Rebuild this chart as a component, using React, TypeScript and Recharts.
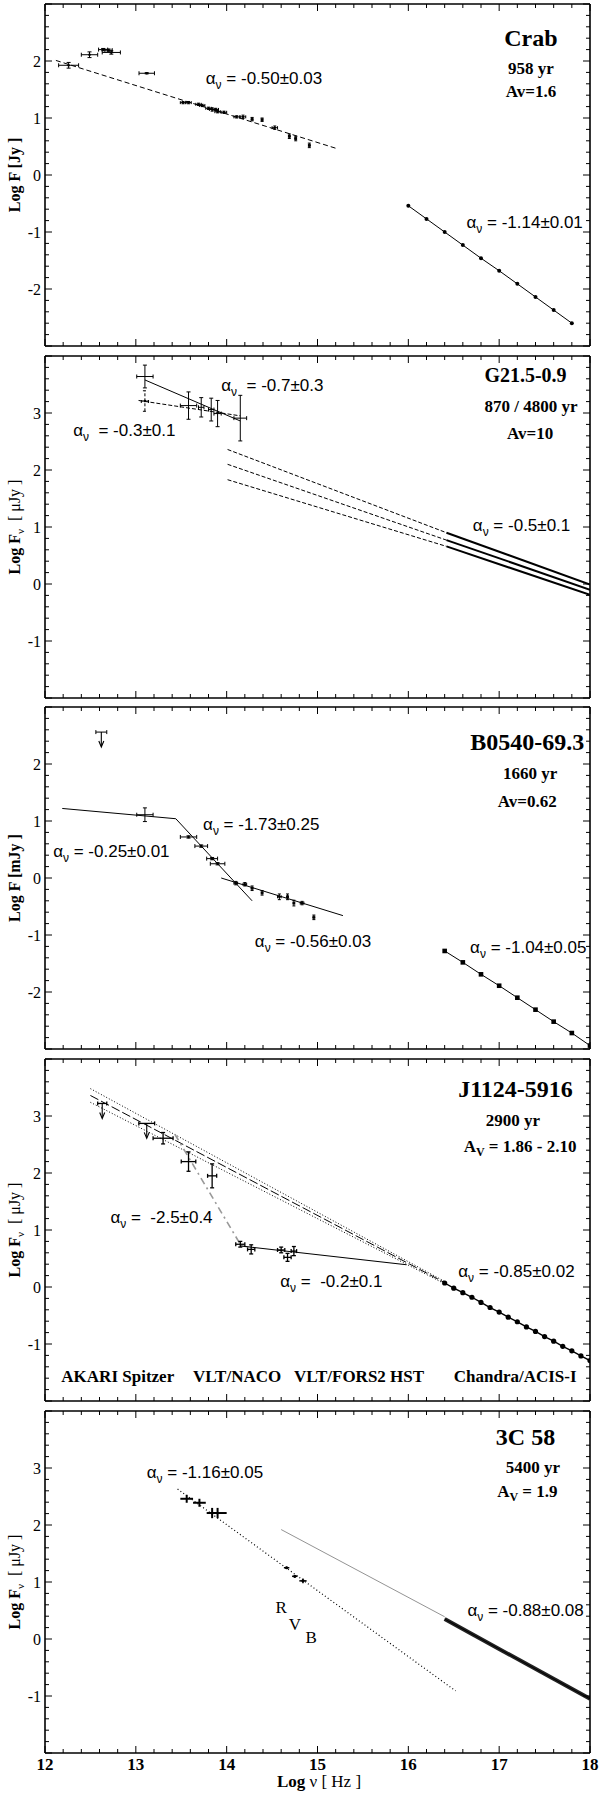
import React from 'react';
import { ComposedChart, Line, Scatter, XAxis, YAxis, ErrorBar } from 'recharts';

const SERIF = '"Liberation Serif", "Times New Roman", Times, serif';
const SANS = '"Liberation Sans", Arial, Helvetica, sans-serif';

const X_DOMAIN: [number, number] = [12, 18];
const X_LABELS = [12, 13, 14, 15, 16, 17, 18];

// ---------------- Crab ----------------
const crabFit = [{ x: 12.12, y: 2.01 }, { x: 15.22, y: 0.46 }];
const crabIR = [
  { x: 12.26, y: 1.925, ex: 0.11, ey: 0.05 },
  { x: 12.49, y: 2.11, ex: 0.09, ey: 0.05 },
  { x: 12.64, y: 2.2, ex: 0.05, ey: 0.02 },
  { x: 12.7, y: 2.19, ex: 0.04, ey: 0.02 },
  { x: 12.73, y: 2.15, ex: 0.1, ey: 0.03 },
  { x: 13.12, y: 1.785, ex: 0.085, ey: 0.01 },
];
const crabOpt = [
  { x: 13.52, y: 1.27, ex: 0.03, ey: 0.02 },
  { x: 13.58, y: 1.27, ex: 0.03, ey: 0.02 },
  { x: 13.69, y: 1.24, ex: 0.03, ey: 0.02 },
  { x: 13.73, y: 1.22, ex: 0.03, ey: 0.02 },
  { x: 13.8, y: 1.17, ex: 0.03, ey: 0.02 },
  { x: 13.84, y: 1.15, ex: 0.03, ey: 0.03 },
  { x: 13.88, y: 1.15, ex: 0.03, ey: 0.02 },
  { x: 13.9, y: 1.11, ex: 0.03, ey: 0.02 },
  { x: 13.97, y: 1.1, ex: 0.03, ey: 0.02 },
  { x: 14.11, y: 1.02, ex: 0.03, ey: 0.02 },
  { x: 14.18, y: 1.02, ex: 0.03, ey: 0.03 },
  { x: 14.28, y: 0.98, ex: 0.01, ey: 0.03 },
  { x: 14.39, y: 0.97, ex: 0.01, ey: 0.03 },
  { x: 14.53, y: 0.83, ex: 0.03, ey: 0.03 },
  { x: 14.69, y: 0.68, ex: 0.01, ey: 0.04 },
  { x: 14.76, y: 0.64, ex: 0.01, ey: 0.04 },
  { x: 14.91, y: 0.52, ex: 0.01, ey: 0.04 },
];
const crabXray = [
  { x: 16.0, y: -0.54 }, { x: 16.2, y: -0.77 }, { x: 16.4, y: -1.0 }, { x: 16.6, y: -1.23 },
  { x: 16.8, y: -1.46 }, { x: 17.0, y: -1.68 }, { x: 17.2, y: -1.91 }, { x: 17.4, y: -2.14 },
  { x: 17.6, y: -2.37 }, { x: 17.8, y: -2.6 },
];
const crabNotes = [
  { x: 13.77, y: 1.59, kind: 'alpha', text: ' = -0.50±0.03' },
  { x: 16.64, y: -0.925, kind: 'alpha', text: ' = -1.14±0.01' },
  { x: 17.35, y: 2.27, kind: 'title', text: 'Crab' },
  { x: 17.35, y: 1.77, kind: 'sub', text: '958 yr' },
  { x: 17.35, y: 1.37, kind: 'sub', text: 'Av=1.6' },
];

// ---------------- G21.5-0.9 ----------------
const g21Steep = [{ x: 13.1, y: 3.58 }, { x: 14.15, y: 2.86 }];
const g21Flat = [{ x: 13.03, y: 3.22 }, { x: 14.15, y: 2.95 }];
const g21ExtHi = [{ x: 14.01, y: 2.36 }, { x: 16.42, y: 0.9 }];
const g21ExtMid = [{ x: 14.01, y: 2.1 }, { x: 16.42, y: 0.77 }];
const g21ExtLo = [{ x: 14.01, y: 1.83 }, { x: 16.42, y: 0.66 }];
const g21XHi = [{ x: 16.42, y: 0.9 }, { x: 18.0, y: -0.01 }];
const g21XMid = [{ x: 16.42, y: 0.77 }, { x: 18.0, y: -0.1 }];
const g21XLo = [{ x: 16.42, y: 0.66 }, { x: 18.0, y: -0.19 }];
const g21Pts = [
  { x: 13.1, y: 3.64, ex: 0.09, ey: 0.2 },
  { x: 13.58, y: 3.13, ex: 0.09, ey: 0.24 },
  { x: 13.72, y: 3.1, ex: 0.03, ey: 0.17 },
  { x: 13.83, y: 3.06, ex: 0.03, ey: 0.2 },
  { x: 13.9, y: 2.99, ex: 0.04, ey: 0.23 },
  { x: 14.15, y: 2.91, ex: 0.07, ey: 0.4 },
];
const g21PtsLow = [{ x: 13.1, y: 3.21, ex: 0.04, ey: 0.18 }];
const g21Notes = [
  { x: 13.94, y: 3.38, kind: 'alpha', text: '  = -0.7±0.3' },
  { x: 12.31, y: 2.59, kind: 'alpha', text: '  = -0.3±0.1' },
  { x: 16.71, y: 0.93, kind: 'alpha', text: ' = -0.5±0.1' },
  { x: 17.29, y: 3.54, kind: 'title', text: 'G21.5-0.9', size: 20 },
  { x: 17.35, y: 3.01, kind: 'sub', text: '870 / 4800 yr' },
  { x: 17.34, y: 2.54, kind: 'sub', text: 'Av=10' },
];

// ---------------- B0540-69.3 ----------------
const b05Broken = [{ x: 12.19, y: 1.22 }, { x: 13.44, y: 1.04 }, { x: 14.28, y: -0.4 }];
const b05Fit = [{ x: 13.94, y: 0.0 }, { x: 15.28, y: -0.66 }];
const b05Xray = [
  { x: 16.4, y: -1.28 }, { x: 16.6, y: -1.48 }, { x: 16.8, y: -1.69 }, { x: 17.0, y: -1.89 },
  { x: 17.2, y: -2.1 }, { x: 17.4, y: -2.31 }, { x: 17.6, y: -2.52 }, { x: 17.8, y: -2.72 },
  { x: 18.0, y: -2.94 },
];
const b05Limit = [{ x: 12.62, y: 2.56, ex: 0.06, ey: 0 }];
const b05Big = [{ x: 13.1, y: 1.11, ex: 0.09, ey: 0.12 }];
const b05NIR = [
  { x: 13.58, y: 0.72, ex: 0.09, ey: 0.02 },
  { x: 13.72, y: 0.56, ex: 0.07, ey: 0.02 },
  { x: 13.84, y: 0.34, ex: 0.06, ey: 0.02 },
  { x: 13.9, y: 0.25, ex: 0.08, ey: 0.02 },
];
const b05Opt = [
  { x: 14.1, y: -0.09, ex: 0.02, ey: 0.03 },
  { x: 14.2, y: -0.11, ex: 0.02, ey: 0.03 },
  { x: 14.28, y: -0.18, ex: 0.01, ey: 0.04 },
  { x: 14.39, y: -0.26, ex: 0.01, ey: 0.04 },
  { x: 14.58, y: -0.33, ex: 0.02, ey: 0.05 },
  { x: 14.67, y: -0.33, ex: 0.01, ey: 0.05 },
  { x: 14.74, y: -0.44, ex: 0.01, ey: 0.05 },
  { x: 14.83, y: -0.44, ex: 0.02, ey: 0.03 },
  { x: 14.96, y: -0.69, ex: 0.01, ey: 0.04 },
];
const b05Notes = [
  { x: 13.74, y: 0.85, kind: 'alpha', text: ' = -1.73±0.25' },
  { x: 12.09, y: 0.36, kind: 'alpha', text: ' = -0.25±0.01' },
  { x: 14.31, y: -1.21, kind: 'alpha', text: ' = -0.56±0.03' },
  { x: 16.68, y: -1.32, kind: 'alpha', text: ' = -1.04±0.05' },
  { x: 17.31, y: 2.25, kind: 'title', text: 'B0540-69.3' },
  { x: 17.34, y: 1.73, kind: 'sub', text: '1660 yr' },
  { x: 17.31, y: 1.24, kind: 'sub', text: 'Av=0.62' },
];

// ---------------- J1124-5916 ----------------
const j11DotHi = [{ x: 12.5, y: 3.48 }, { x: 16.42, y: 0.08 }];
const j11Dash = [{ x: 12.5, y: 3.36 }, { x: 16.42, y: 0.06 }];
const j11DotLo = [{ x: 12.5, y: 3.24 }, { x: 16.42, y: 0.04 }];
const j11Steep = [{ x: 13.43, y: 2.68 }, { x: 14.15, y: 0.75 }];
const j11Flat = [{ x: 14.15, y: 0.72 }, { x: 15.98, y: 0.39 }];
const j11Xray = [
  { x: 16.4, y: 0.07 }, { x: 16.5, y: -0.02 }, { x: 16.6, y: -0.1 }, { x: 16.7, y: -0.18 },
  { x: 16.8, y: -0.27 }, { x: 16.9, y: -0.36 }, { x: 17.0, y: -0.44 }, { x: 17.1, y: -0.53 },
  { x: 17.2, y: -0.61 }, { x: 17.3, y: -0.7 }, { x: 17.4, y: -0.78 }, { x: 17.5, y: -0.87 },
  { x: 17.6, y: -0.95 }, { x: 17.7, y: -1.04 }, { x: 17.8, y: -1.12 }, { x: 17.9, y: -1.21 },
  { x: 18.0, y: -1.29 },
];
const j11Limits = [
  { x: 12.63, y: 3.22, ex: 0.05, ey: 0 },
  { x: 13.12, y: 2.87, ex: 0.087, ey: 0 },
];
const j11Pts = [
  { x: 13.3, y: 2.61, ex: 0.11, ey: 0.1 },
  { x: 13.58, y: 2.2, ex: 0.08, ey: 0.17 },
  { x: 13.84, y: 1.95, ex: 0.05, ey: 0.21 },
  { x: 14.15, y: 0.75, ex: 0.05, ey: 0.05 },
  { x: 14.27, y: 0.66, ex: 0.04, ey: 0.08 },
  { x: 14.6, y: 0.65, ex: 0.04, ey: 0.05 },
  { x: 14.67, y: 0.52, ex: 0.04, ey: 0.07 },
  { x: 14.74, y: 0.63, ex: 0.03, ey: 0.08 },
];
const j11Notes = [
  { x: 12.72, y: 1.12, kind: 'alpha', text: ' =  -2.5±0.4' },
  { x: 14.59, y: 0.005, kind: 'alpha', text: ' =  -0.2±0.1' },
  { x: 16.55, y: 0.18, kind: 'alpha', text: ' = -0.85±0.02' },
  { x: 12.18, y: -1.673, kind: 'inst', text: 'AKARI Spitzer' },
  { x: 13.63, y: -1.673, kind: 'inst', text: 'VLT/NACO' },
  { x: 14.74, y: -1.673, kind: 'inst', text: 'VLT/FORS2 HST' },
  { x: 16.5, y: -1.673, kind: 'inst', text: 'Chandra/ACIS-I' },
  { x: 17.18, y: 3.34, kind: 'title', text: 'J1124-5916' },
  { x: 17.15, y: 2.82, kind: 'sub', text: '2900 yr' },
  { x: 17.23, y: 2.36, kind: 'av', text: ' = 1.86 - 2.10' },
];

// ---------------- 3C 58 ----------------
const c58Dotted = [{ x: 13.46, y: 2.63 }, { x: 16.52, y: -0.91 }];
const c58Thin = [{ x: 14.6, y: 1.92 }, { x: 16.4, y: 0.39 }];
const c58Band = [{ x: 16.4, y: 0.35 }, { x: 18.0, y: -1.05 }];
const c58NIR = [
  { x: 13.56, y: 2.46, ex: 0.07, ey: 0.07 },
  { x: 13.7, y: 2.39, ex: 0.07, ey: 0.07 },
  { x: 13.84, y: 2.21, ex: 0.06, ey: 0.09 },
  { x: 13.9, y: 2.21, ex: 0.1, ey: 0.09 },
];
const c58Opt = [
  { x: 14.66, y: 1.25, ex: 0.03, ey: 0.02 },
  { x: 14.75, y: 1.1, ex: 0.03, ey: 0.02 },
  { x: 14.84, y: 1.02, ex: 0.04, ey: 0.04 },
];
const c58Notes = [
  { x: 13.12, y: 2.83, kind: 'alpha', text: ' = -1.16±0.05' },
  { x: 16.65, y: 0.4, kind: 'alpha', text: ' = -0.88±0.08' },
  { x: 14.6, y: 0.45, kind: 'plain', text: 'R' },
  { x: 14.75, y: 0.16, kind: 'plain', text: 'V' },
  { x: 14.93, y: -0.07, kind: 'plain', text: 'B' },
  { x: 17.29, y: 3.41, kind: 'title', text: '3C 58' },
  { x: 17.37, y: 2.92, kind: 'sub', text: '5400 yr' },
  { x: 17.31, y: 2.5, kind: 'av', text: ' = 1.9' },
];

// ---------------- helpers ----------------
const round1 = (v: number) => Math.round(v * 10) / 10;
function stepTicks(lo: number, hi: number) {
  const out: number[] = [];
  const n = Math.round((hi - lo) / 0.2);
  for (let i = 0; i <= n; i++) out.push(round1(lo + i * 0.2));
  return out;
}
const X_TICKS = stepTicks(12, 18);
const isInt = (v: number) => Math.abs(v - Math.round(v)) < 1e-6;

function makeTick(side: string, labels: number[]) {
  return function TickMark(props: any) {
    const { x, y, payload } = props;
    const v = Number(payload && payload.value);
    const major = isInt(v);
    const len = major ? 7 : 4;
    let x2 = x;
    let y2 = y;
    if (side === 'left') x2 = x + len;
    else if (side === 'right') x2 = x - len;
    else if (side === 'top') y2 = y + len;
    else y2 = y - len;
    const show = major && labels.some((l) => Math.abs(l - v) < 1e-6);
    let label: any = null;
    if (show && side === 'left') {
      label = (
        <text x={x - 4} y={y + 5.5} textAnchor="end" fontFamily={SERIF} fontSize={16} fill="#000" stroke="none">
          {String(Math.round(v))}
        </text>
      );
    } else if (show && side === 'bottom') {
      label = (
        <text x={x} y={y + 17} textAnchor="middle" fontFamily={SERIF} fontWeight="bold" fontSize={17} fill="#000" stroke="none">
          {String(Math.round(v))}
        </text>
      );
    }
    return (
      <g>
        <line x1={x} y1={y} x2={x2} y2={y2} stroke="#000" strokeWidth={1} />
        {label}
      </g>
    );
  };
}

function NoteShape(props: any) {
  const { cx, cy, payload } = props;
  const d = payload || {};
  if (cx == null || cy == null) return <g />;
  if (d.kind === 'alpha') {
    return (
      <text x={cx} y={cy} fontFamily={SANS} fontSize={17} fill="#000" style={{ whiteSpace: 'pre' }}>
        α<tspan dy={5} fontSize={12}>ν</tspan>
        <tspan dy={-5}>{d.text}</tspan>
      </text>
    );
  }
  if (d.kind === 'title') {
    return (
      <text x={cx} y={cy} textAnchor="middle" fontFamily={SERIF} fontWeight="bold" fontSize={d.size || 24} fill="#000">
        {d.text}
      </text>
    );
  }
  if (d.kind === 'sub') {
    return (
      <text x={cx} y={cy} textAnchor="middle" fontFamily={SERIF} fontWeight="bold" fontSize={17} fill="#000" style={{ whiteSpace: 'pre' }}>
        {d.text}
      </text>
    );
  }
  if (d.kind === 'av') {
    return (
      <text x={cx} y={cy} textAnchor="middle" fontFamily={SERIF} fontWeight="bold" fontSize={17} fill="#000" style={{ whiteSpace: 'pre' }}>
        A<tspan dy={4} fontSize={12}>V</tspan>
        <tspan dy={-4}>{d.text}</tspan>
      </text>
    );
  }
  if (d.kind === 'inst') {
    return (
      <text x={cx} y={cy} fontFamily={SERIF} fontWeight="bold" fontSize={17} fill="#000">
        {d.text}
      </text>
    );
  }
  return (
    <text x={cx} y={cy} textAnchor="middle" fontFamily={SERIF} fontSize={17} fill="#000">
      {d.text}
    </text>
  );
}

function makeShape(kind: string, size: number) {
  return function PointShape(props: any) {
    const { cx, cy } = props;
    if (cx == null || cy == null) return <g />;
    if (kind === 'dot') return <circle cx={cx} cy={cy} r={size} fill="#000" />;
    if (kind === 'square') return <rect x={cx - size} y={cy - size} width={size * 2} height={size * 2} fill="#000" />;
    if (kind === 'ulim') {
      return (
        <g stroke="#000" strokeWidth={1.1} fill="#000">
          <line x1={cx} y1={cy} x2={cx} y2={cy + size} />
          <path d={`M${cx - 2.5},${cy + size - 5} L${cx},${cy + size + 1} L${cx + 2.5},${cy + size - 5}`} fill="none" />
        </g>
      );
    }
    return <g />;
  };
}

type LineSpec = { data: any[]; stroke?: string; width?: number; dash?: string; dot?: string; dotSize?: number };
type PtSpec = { data: any[]; shape: string; size?: number; cap?: number; sw?: number; stroke?: string; dash?: string; noEy?: boolean };
type PanelSpec = {
  top: number;
  bottom: number;
  yDomain: [number, number];
  yLabels: number[];
  lines: LineSpec[];
  points: PtSpec[];
  notes: any[];
};

const PANELS: PanelSpec[] = [
  {
    top: 4, bottom: 346, yDomain: [-3, 3], yLabels: [-2, -1, 0, 1, 2],
    lines: [
      { data: crabFit, dash: '5 3', width: 1 },
      { data: crabXray, width: 1, dot: 'dot', dotSize: 2 },
    ],
    points: [
      { data: crabIR, shape: 'dot', size: 1.3, cap: 2, sw: 1 },
      { data: crabOpt, shape: 'dot', size: 1.2, cap: 1.5, sw: 1 },
    ],
    notes: crabNotes,
  },
  {
    top: 356, bottom: 698, yDomain: [-2, 4], yLabels: [-1, 0, 1, 2, 3],
    lines: [
      { data: g21Steep, width: 1 },
      { data: g21Flat, width: 1, dash: '4 2' },
      { data: g21ExtHi, width: 1, dash: '4 2' },
      { data: g21ExtMid, width: 1, dash: '4 2' },
      { data: g21ExtLo, width: 1, dash: '4 2' },
      { data: g21XHi, width: 2 },
      { data: g21XMid, width: 2 },
      { data: g21XLo, width: 2 },
    ],
    points: [
      { data: g21Pts, shape: 'none', cap: 2, sw: 1 },
      { data: g21PtsLow, shape: 'dot', size: 1.3, cap: 2, sw: 1, dash: '3 2' },
    ],
    notes: g21Notes,
  },
  {
    top: 707, bottom: 1049, yDomain: [-3, 3], yLabels: [-2, -1, 0, 1, 2],
    lines: [
      { data: b05Broken, width: 1 },
      { data: b05Fit, width: 1 },
      { data: b05Xray, width: 1, dot: 'square', dotSize: 2.3 },
    ],
    points: [
      { data: b05Limit, shape: 'ulim', size: 14, cap: 2, sw: 1, noEy: true },
      { data: b05Big, shape: 'none', cap: 2, sw: 1 },
      { data: b05NIR, shape: 'dot', size: 1.3, cap: 2, sw: 1 },
      { data: b05Opt, shape: 'dot', size: 1.2, cap: 1.5, sw: 1 },
    ],
    notes: b05Notes,
  },
  {
    top: 1059, bottom: 1401, yDomain: [-2, 4], yLabels: [-1, 0, 1, 2, 3],
    lines: [
      { data: j11DotHi, width: 1, dash: '1 2' },
      { data: j11DotLo, width: 1, dash: '1 2' },
      { data: j11Dash, width: 1, dash: '9 3' },
      { data: j11Steep, width: 1.6, dash: '7 4 2 4', stroke: '#999' },
      { data: j11Flat, width: 1.2 },
      { data: j11Xray, width: 1.4, dot: 'dot', dotSize: 2.6 },
    ],
    points: [
      { data: j11Limits, shape: 'ulim', size: 14, cap: 2, sw: 1.3, noEy: true },
      { data: j11Pts, shape: 'none', cap: 2, sw: 1.3 },
    ],
    notes: j11Notes,
  },
  {
    top: 1411, bottom: 1753, yDomain: [-2, 4], yLabels: [-1, 0, 1, 2, 3],
    lines: [
      { data: c58Dotted, width: 1.2, dash: '1 2.5' },
      { data: c58Thin, width: 0.8, stroke: '#777' },
      { data: c58Band, width: 4, stroke: '#222' },
      { data: c58Band, width: 1, stroke: '#000' },
    ],
    points: [
      { data: c58NIR, shape: 'none', cap: 0, sw: 2 },
      { data: c58Opt, shape: 'dot', size: 1.6, cap: 0, sw: 1.5 },
    ],
    notes: c58Notes,
  },
];

const FRAME = { stroke: '#000', strokeWidth: 1.6 };

function renderLineDot(kind: string, size: number) {
  return (props: any) => {
    const { cx, cy, index } = props;
    if (cx == null || cy == null) return <g key={`d${index}`} />;
    if (kind === 'square')
      return <rect key={`d${index}`} x={cx - size} y={cy - size} width={size * 2} height={size * 2} fill="#000" />;
    return <circle key={`d${index}`} cx={cx} cy={cy} r={size} fill="#000" />;
  };
}

function PanelChart({ p, last }: { p: PanelSpec; last: boolean }) {
  const plotH = p.bottom - p.top;
  const bottomH = last ? 42 : 2;
  const marginBottom = last ? 0 : 3;
  const height = 5 + plotH + bottomH + marginBottom;
  const yTicks = stepTicks(p.yDomain[0], p.yDomain[1]);
  return (
    <div style={{ position: 'absolute', left: 0, top: p.top - 5, width: 600, height }}>
      <ComposedChart width={600} height={height} margin={{ top: 3, right: 8, bottom: marginBottom, left: 8 }}>
        <XAxis
          xAxisId="b" orientation="bottom" dataKey="x" type="number" domain={X_DOMAIN} allowDataOverflow
          ticks={X_TICKS} interval={0} tickSize={0} tickMargin={0} height={bottomH}
          axisLine={FRAME} tickLine={false} tick={makeTick('bottom', last ? X_LABELS : [])}
        />
        <XAxis
          xAxisId="t" orientation="top" dataKey="x" type="number" domain={X_DOMAIN} allowDataOverflow
          ticks={X_TICKS} interval={0} tickSize={0} tickMargin={0} height={2}
          axisLine={FRAME} tickLine={false} tick={makeTick('top', [])}
        />
        <YAxis
          yAxisId="l" orientation="left" dataKey="y" type="number" domain={p.yDomain} allowDataOverflow
          ticks={yTicks} interval={0} tickSize={0} tickMargin={0} width={37}
          axisLine={FRAME} tickLine={false} tick={makeTick('left', p.yLabels)}
        />
        <YAxis
          yAxisId="r" orientation="right" dataKey="y" type="number" domain={p.yDomain} allowDataOverflow
          ticks={yTicks} interval={0} tickSize={0} tickMargin={0} width={2}
          axisLine={FRAME} tickLine={false} tick={makeTick('right', [])}
        />
        {p.lines.map((l, i) => (
          <Line
            key={`line${i}`}
            data={l.data}
            dataKey="y"
            xAxisId="b"
            yAxisId="l"
            type="linear"
            stroke={l.stroke || '#000'}
            strokeWidth={l.width || 1}
            strokeDasharray={l.dash}
            dot={l.dot ? renderLineDot(l.dot, l.dotSize || 2) : false}
            activeDot={false}
            isAnimationActive={false}
            legendType="none"
          />
        ))}
        {p.points.map((s, i) => (
          <Scatter
            key={`pts${i}`}
            data={s.data}
            dataKey="y"
            xAxisId="b"
            yAxisId="l"
            shape={makeShape(s.shape, s.size || 1.5)}
            isAnimationActive={false}
            fill="#000"
            legendType="none"
          >
            <ErrorBar dataKey="ex" direction="x" width={s.cap ?? 2} stroke={s.stroke || '#000'} strokeWidth={s.sw || 1} strokeDasharray={s.dash} isAnimationActive={false} />
            {!s.noEy && (
              <ErrorBar dataKey="ey" direction="y" width={s.cap ?? 2} stroke={s.stroke || '#000'} strokeWidth={s.sw || 1} strokeDasharray={s.dash} isAnimationActive={false} />
            )}
          </Scatter>
        ))}
        <Scatter
          data={p.notes}
          dataKey="y"
          xAxisId="b"
          yAxisId="l"
          shape={NoteShape}
          isAnimationActive={false}
          legendType="none"
        />
      </ComposedChart>
    </div>
  );
}

const Y_TITLES = ['jy', 'ujy', 'mjy', 'ujy', 'ujy'];

function YTitle({ kind, cy }: { kind: string; cy: number }) {
  const tf = `translate(20, ${cy}) rotate(-90)`;
  if (kind === 'ujy') {
    return (
      <text transform={tf} textAnchor="middle" fontFamily={SERIF} fontSize={16} fill="#000" style={{ whiteSpace: 'pre' }}>
        <tspan fontWeight="bold">Log F</tspan>
        <tspan dy={4} fontSize={11}>ν</tspan>
        <tspan dy={-4}>{'  [ μJy ]'}</tspan>
      </text>
    );
  }
  return (
    <text transform={tf} textAnchor="middle" fontFamily={SERIF} fontSize={16} fontWeight="bold" fill="#000" style={{ whiteSpace: 'pre' }}>
      {kind === 'jy' ? 'Log F [Jy ]' : 'Log F [mJy ]'}
    </text>
  );
}

export default function App() {
  return (
    <div style={{ position: 'absolute', left: 0, top: 0, width: 600, height: 1795, overflow: 'hidden', background: '#fff' }}>
      {PANELS.map((p, i) => (
        <PanelChart key={i} p={p} last={i === PANELS.length - 1} />
      ))}
      <svg width={600} height={1795} style={{ position: 'absolute', left: 0, top: 0, pointerEvents: 'none' }}>
        {PANELS.map((p, i) => (
          <YTitle key={i} kind={Y_TITLES[i]} cy={(p.top + p.bottom) / 2} />
        ))}
        <text x={319} y={1787} textAnchor="middle" fontFamily={SERIF} fontSize={17} fill="#000" style={{ whiteSpace: 'pre' }}>
          <tspan fontWeight="bold">Log</tspan>
          <tspan>{' ν [ Hz ]'}</tspan>
        </text>
      </svg>
    </div>
  );
}
